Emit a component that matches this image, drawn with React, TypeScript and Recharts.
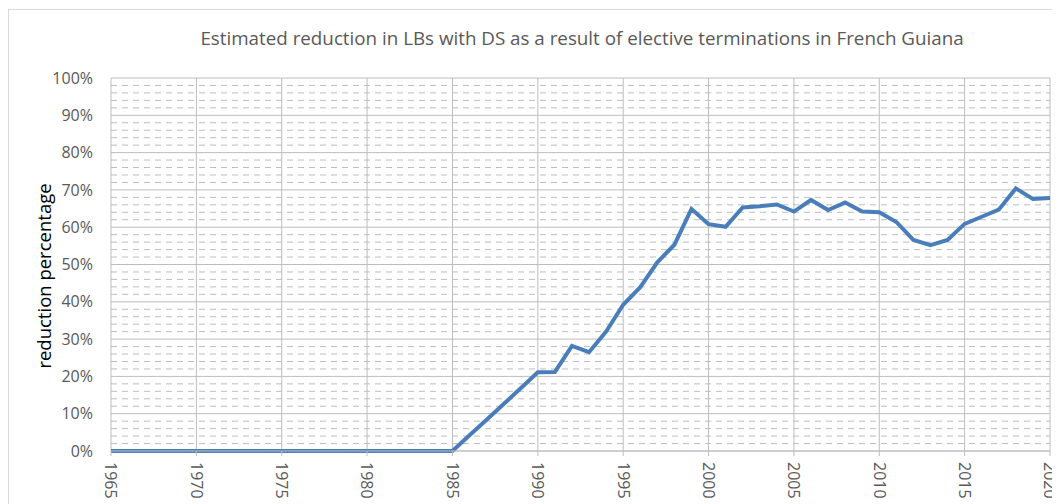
import React from "react";
import { LineChart, Line, XAxis, YAxis, CartesianGrid } from "recharts";

const years: number[] = [
  1965, 1966, 1967, 1968, 1969, 1970, 1971, 1972, 1973, 1974, 1975, 1976, 1977, 1978, 1979,
  1980, 1981, 1982, 1983, 1984, 1985, 1986, 1987, 1988, 1989, 1990, 1991, 1992, 1993, 1994,
  1995, 1996, 1997, 1998, 1999, 2000, 2001, 2002, 2003, 2004, 2005, 2006, 2007, 2008, 2009,
  2010, 2011, 2012, 2013, 2014, 2015, 2016, 2017, 2018, 2019, 2020,
];
const reduction: number[] = [
  0, 0, 0, 0, 0, 0, 0, 0, 0, 0, 0, 0, 0, 0, 0,
  0, 0, 0, 0, 0, 0, 4.2, 8.4, 12.6, 16.8, 21.1, 21.2, 28.2, 26.5, 32,
  39.2, 43.9, 50.6, 55.3, 64.9, 60.8, 60.1, 65.3, 65.6, 66.1, 64.2, 67.3, 64.6, 66.6, 64.2,
  64, 61.4, 56.6, 55.2, 56.6, 60.9, 62.8, 64.7, 70.4, 67.6, 67.8,
];
const xTicks: number[] = [1965, 1970, 1975, 1980, 1985, 1990, 1995, 2000, 2005, 2010, 2015, 2020];
const yTicks: number[] = [0, 10, 20, 30, 40, 50, 60, 70, 80, 90, 100];
const yMinor: number[] = [
  2, 4, 6, 8, 12, 14, 16, 18, 22, 24, 26, 28, 32, 34, 36, 38, 42, 44, 46, 48,
  52, 54, 56, 58, 62, 64, 66, 68, 72, 74, 76, 78, 82, 84, 86, 88, 92, 94, 96, 98,
];

const title =
  "Estimated reduction in LBs with DS as a result of elective terminations in French Guiana";
const yLabel = "reduction percentage";

const data = years.map((y, i) => ({ year: y, value: reduction[i] }));

const FONT = "'Open Sans', sans-serif";

const XTick = (props: any) => {
  const { x, y, payload } = props;
  return (
    <text
      x={0}
      y={0}
      dy="0.35em"
      transform={`translate(${x},${y + 4}) rotate(90)`}
      textAnchor="start"
      fill="#595959"
      fontSize={16}
      fontFamily={FONT}
    >
      {payload.value}
    </text>
  );
};

export default function App() {
  return (
    <div style={{ position: "relative", width: 1052, height: 496, overflow: "hidden", background: "#fff" }}>
      <div
        style={{
          position: "absolute",
          left: 0,
          top: 1,
          width: 1100,
          height: 600,
          border: "1px solid #d9d9d9",
          boxSizing: "border-box",
        }}
      />
      <div
        style={{
          position: "absolute",
          left: 0,
          top: 17,
          width: 1148,
          textAlign: "center",
          fontFamily: FONT,
          fontSize: 18.8,
          color: "#595959",
          whiteSpace: "nowrap",
        }}
      >
        {title}
      </div>
      <div
        style={{
          position: "absolute",
          left: 35,
          top: 268,
          width: 0,
          height: 0,
        }}
      >
        <div
          style={{
            position: "absolute",
            left: 0,
            top: 0,
            transform: "translate(-50%,-50%) rotate(-90deg)",
            fontFamily: FONT,
            fontSize: 18.5,
            color: "#000",
            whiteSpace: "nowrap",
          }}
        >
          {yLabel}
        </div>
      </div>
      <div style={{ position: "absolute", left: 0, top: 0 }}>
        <LineChart
          width={1052}
          height={496}
          data={data}
          margin={{ top: 70, right: 10, bottom: 3, left: 0 }}
        >
          <CartesianGrid
            horizontal={true}
            vertical={false}
            horizontalValues={yMinor}
            stroke="#bdbdbd"
            strokeDasharray="6 5"
          />
          <CartesianGrid
            horizontal={true}
            vertical={true}
            horizontalValues={yTicks}
            verticalValues={xTicks}
            stroke="#bdbdbd"
          />
          <XAxis
            dataKey="year"
            type="number"
            domain={[1965, 2020]}
            ticks={xTicks}
            interval={0}
            height={50}
            stroke="#bdbdbd"
            tickLine={{ stroke: "#bdbdbd" }}
            tickSize={5}
            tick={<XTick />}
          />
          <YAxis
            type="number"
            domain={[0, 100]}
            ticks={yTicks}
            interval={0}
            width={103}
            axisLine={false}
            tickLine={false}
            tickSize={8}
            tickMargin={10}
            tickFormatter={(v: number) => `${v}%`}
            tick={{ fill: "#595959", fontSize: 16, fontFamily: FONT }}
          />
          <Line
            type="linear"
            dataKey="value"
            stroke="#4a7ebb"
            strokeWidth={4}
            dot={false}
            activeDot={false}
            isAnimationActive={false}
          />
        </LineChart>
      </div>
    </div>
  );
}
